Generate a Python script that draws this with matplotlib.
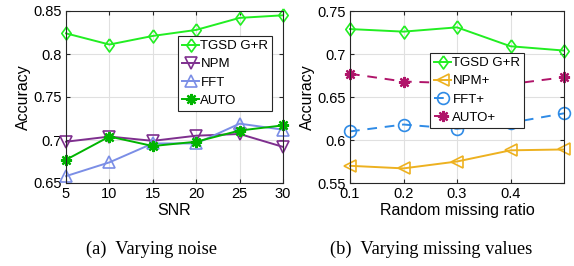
import matplotlib
matplotlib.use("Agg")
import matplotlib.pyplot as plt

plt.rcParams["font.family"] = ["Liberation Sans", "DejaVu Sans"]

# (a) varying noise
snr = [5, 10, 15, 20, 25, 30]
tgsd_noise = [0.824, 0.811, 0.821, 0.828, 0.842, 0.845]
npm_noise = [0.698, 0.704, 0.699, 0.705, 0.707, 0.692]
fft_noise = [0.658, 0.674, 0.696, 0.696, 0.719, 0.712]
auto_noise = [0.677, 0.704, 0.693, 0.698, 0.711, 0.717]

# (b) varying missing values
ratio = [0.1, 0.2, 0.3, 0.4, 0.5]
tgsd_miss = [0.729, 0.726, 0.731, 0.709, 0.704]
npm_miss = [0.570, 0.567, 0.575, 0.588, 0.589]
fft_miss = [0.610, 0.618, 0.613, 0.620, 0.631]
auto_miss = [0.677, 0.668, 0.666, 0.665, 0.673]

C_TGSD = "#22ee22"
C_NPM = "#7e2f8e"
C_FFT = "#7b8ee6"
C_AUTO = "#00b400"
C_NPMP = "#edb120"
C_FFTP = "#2f8be6"
C_AUTOP = "#b0156a"

# MATLAB-like diamond (taller than wide) and asterisk
DIAMOND = [(0, 1), (0.72, 0), (0, -1), (-0.72, 0), (0, 1)]
ASTER = (8, 2, 0)

fig = plt.figure(figsize=(5.74, 2.66), dpi=100)
ax1 = fig.add_axes([66 / 574, 1 - 183 / 266, 217 / 574, 172 / 266])
ax2 = fig.add_axes([350 / 574, 1 - 183 / 266, 214 / 574, 172 / 266])

mk = dict(markersize=8.5, markerfacecolor="none", linewidth=1.4, markeredgewidth=1.2)
dk = dict(mk, markersize=9.4)
sk = dict(markersize=8, linewidth=1.4, markeredgewidth=1.6)

ax1.plot(snr, tgsd_noise, "-", marker=DIAMOND, color=C_TGSD, label="TGSD G+R", **dk)
ax1.plot(snr, npm_noise, "-v", color=C_NPM, label="NPM", **mk)
ax1.plot(snr, fft_noise, "-^", color=C_FFT, label="FFT", **mk)
ax1.plot(snr, auto_noise, "-", marker=ASTER, color=C_AUTO, label="AUTO", **sk)
ax1.set_xlim(5, 30)
ax1.set_ylim(0.65, 0.85)
ax1.set_xticks(snr)
ax1.set_yticks([0.65, 0.7, 0.75, 0.8, 0.85])
ax1.set_yticklabels(["0.65", "0.7", "0.75", "0.8", "0.85"])
ax1.set_xlabel("SNR", labelpad=1)
ax1.set_ylabel("Accuracy", labelpad=2)

dash = (0, (5, 4))
ax2.plot(ratio, tgsd_miss, "-", marker=DIAMOND, color=C_TGSD, label="TGSD G+R", **dk)
ax2.plot(ratio, npm_miss, "-<", color=C_NPMP, label="NPM+", **mk)
ax2.plot(ratio, fft_miss, "o", linestyle=dash, color=C_FFTP, label="FFT+", **mk)
ax2.plot(ratio, auto_miss, marker=ASTER, linestyle=dash, color=C_AUTOP, label="AUTO+", **sk)
ax2.set_xlim(0.1, 0.5)
ax2.set_ylim(0.55, 0.75)
ax2.set_xticks([0.1, 0.2, 0.3, 0.4])
ax2.set_yticks([0.55, 0.6, 0.65, 0.7, 0.75])
ax2.set_yticklabels(["0.55", "0.6", "0.65", "0.7", "0.75"])
ax2.set_xlabel("Random missing ratio", labelpad=1)
ax2.set_ylabel("Accuracy", labelpad=2)

for ax in (ax1, ax2):
    ax.grid(True, color="#e0e0e0", linewidth=0.8)
    ax.set_axisbelow(True)
    ax.tick_params(direction="in", length=3, labelsize=10.5, pad=3,
                   top=True, right=True, color="#262626")
    ax.xaxis.label.set_size(11.5)
    ax.yaxis.label.set_size(11.5)
    for s in ax.spines.values():
        s.set_color("#262626")
        s.set_linewidth(0.8)

for ln in ax1.lines + ax2.lines:
    ln.set_clip_on(False)

leg_kw = dict(fontsize=9.5, frameon=True, fancybox=False, borderpad=0.3,
              handlelength=1.3, handletextpad=0.1, labelspacing=0.45,
              borderaxespad=0.0, edgecolor="#262626", framealpha=1)
l1 = ax1.legend(loc="upper left", bbox_to_anchor=((178 - 66) / 217, (183 - 36) / 172), **leg_kw)
l2 = ax2.legend(loc="upper left", bbox_to_anchor=((430 - 350) / 214, (183 - 53) / 172), **leg_kw)
for lg in (l1, l2):
    lg.get_frame().set_linewidth(0.8)
    lg.set_zorder(5)

serif = ["Liberation Serif", "DejaVu Serif"]
fig.text(151 / 574, 1 - 249 / 266, "(a)  Varying noise", ha="center", va="center",
         fontsize=13.2, family=serif)
fig.text(431 / 574, 1 - 249 / 266, "(b)  Varying missing values", ha="center", va="center",
         fontsize=13.2, family=serif)

fig.savefig("out.png", dpi=100)
